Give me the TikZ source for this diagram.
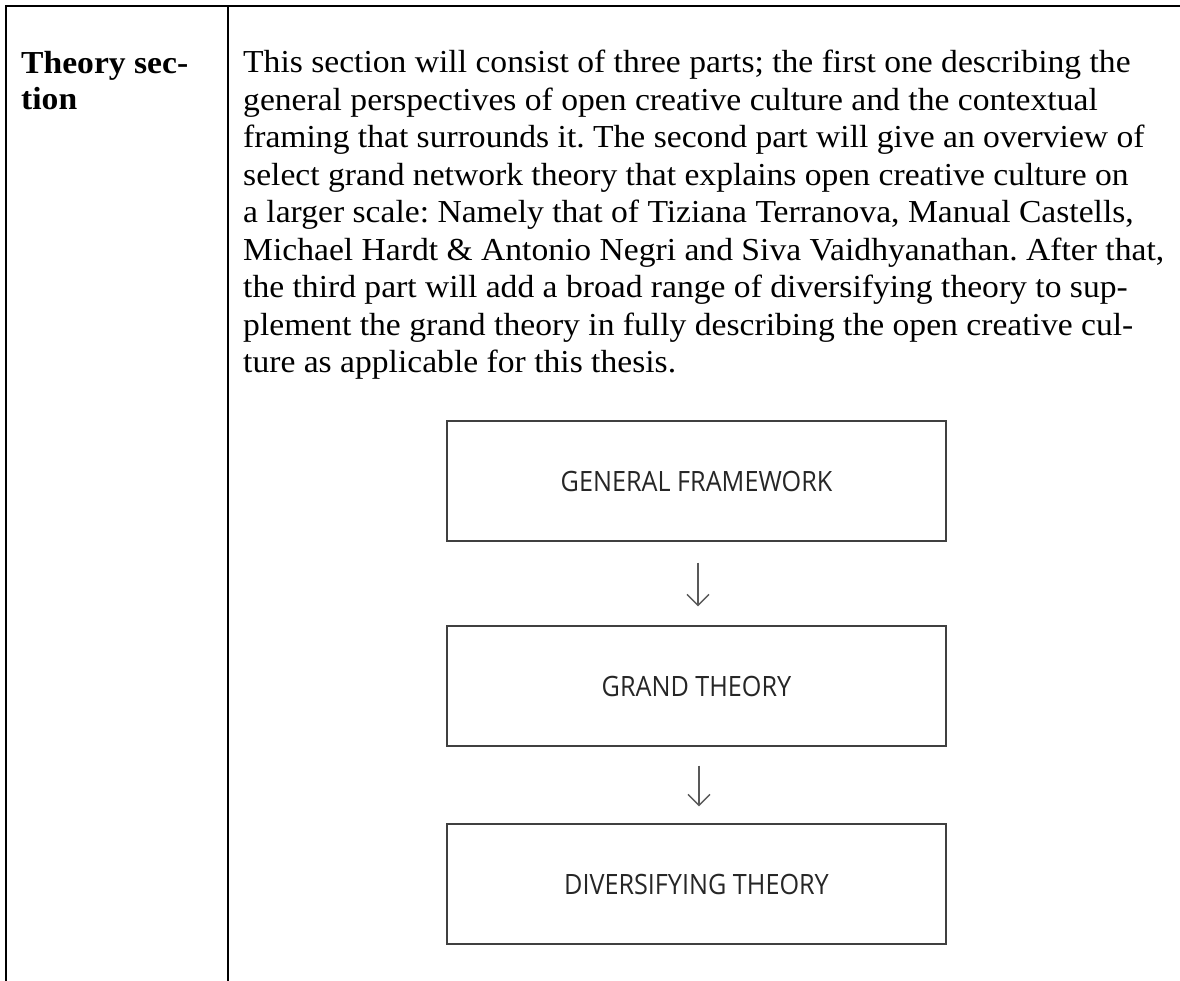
\documentclass[tikz,border=0pt]{standalone}
\usepackage{fontspec}
\setmainfont[FakeStretch=1.05]{Liberation Serif}
\newfontfamily\boxfont[FakeStretch=0.9]{Open Sans}
\usetikzlibrary{arrows.meta}

\tikzset{
  rule/.style={line width=2pt, black},
  flowbox/.style={draw=black!75, line width=1.4pt, minimum width=499pt, minimum height=120pt,
    inner sep=0pt, font=\boxfont\fontsize{28}{32}\selectfont, text=black!85},
  flowarrow/.style={draw=black!65, line width=1.3pt,
    -{Straight Barb[length=11pt, width=22pt, line width=1.3pt]}},
}

\begin{document}
\frenchspacing
\begin{tikzpicture}[x=1pt, y=-1pt]
\useasboundingbox (0,0) rectangle (1180,981);

% table rules
\coordinate (tl) at (6,6);
\coordinate (tr) at (1180,6);
\coordinate (bl) at (6,981);
\coordinate (dt) at (228,6);
\coordinate (db) at (228,981);
\draw[rule] (tr) -- (tl) -- (bl);
\draw[rule] (dt) -- (db);

% heading cell
\node[anchor=base west, inner sep=0pt] (head) at (21,74)
  {\parbox[t]{200pt}{\fontsize{32}{36}\selectfont\bfseries Theory sec-\\tion}};

% body cell
\node[anchor=base west, inner sep=0pt] (body) at (243,73)
  {\parbox[t]{935pt}{\fontsize{32}{37.5}\selectfont\raggedright
   This section will consist of three parts; the first one describing the\\
   general perspectives of open creative culture and the contextual\\
   framing that surrounds it. The second part will give an overview of\\
   select grand network theory that explains open creative culture on\\
   a larger scale: Namely that of Tiziana Terranova, Manual Castells,\\
   Michael Hardt \& Antonio Negri and Siva Vaidhyanathan. After that,\\
   the third part will add a broad range of diversifying theory to sup-\\
   plement the grand theory in fully describing the open creative cul-\\
   ture as applicable for this thesis.}};

% flow of the three theory parts
\node[flowbox] (gf) at (696.5,481) {GENERAL FRAMEWORK};
\node[flowbox] (gt) at (696.5,686) {GRAND THEORY};
\node[flowbox] (dv) at (696.5,884) {DIVERSIFYING THEORY};

\draw[flowarrow, shorten <=21pt, shorten >=19pt] ([xshift=1.5pt]gf.south) -- ([xshift=1.5pt]gt.north);
\draw[flowarrow, shorten <=19pt, shorten >=17pt] ([xshift=2.5pt]gt.south) -- ([xshift=2.5pt]dv.north);
\end{tikzpicture}
\end{document}
